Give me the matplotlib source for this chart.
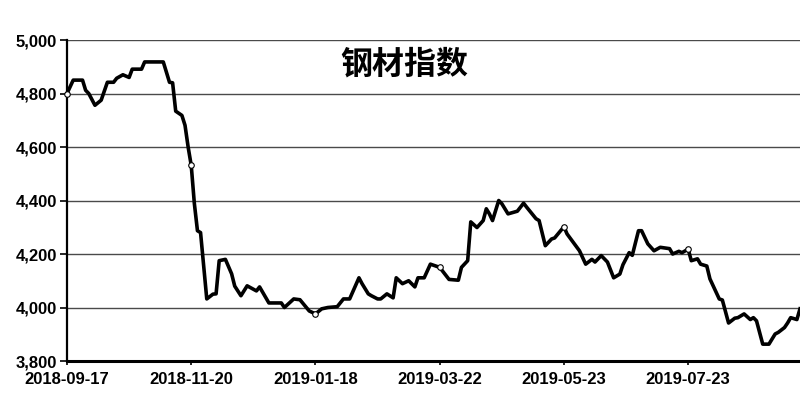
import matplotlib
matplotlib.use("Agg")
import matplotlib.pyplot as plt
from matplotlib.ticker import FuncFormatter

# trading-day index and steel index value
day_idx = [0, 2, 5, 6, 7, 9, 11, 13, 15, 16, 18, 20, 21, 24, 25, 31, 33, 34, 35, 37,
           38, 39, 40, 41, 42, 43, 45, 47, 48, 49, 51, 53, 54, 56, 58, 61, 62, 65, 69, 70,
           73, 75, 78, 80, 82, 84, 87, 89, 91, 94, 95, 97, 98, 100, 101, 103, 105, 106, 108, 110,
           112, 113, 115, 117, 120, 123, 126, 127, 129, 130, 132, 134, 135, 136, 137, 139, 140, 142, 145, 147,
           148, 151, 152, 154, 156, 157, 160, 161, 165, 167, 169, 170, 172, 174, 176, 178, 179, 181, 182, 184,
           185, 187, 189, 191, 194, 195, 197, 198, 200, 201, 203, 204, 206, 207, 210, 211, 213, 215, 216, 218,
           220, 221, 222, 224, 226, 228, 229, 231, 232, 233, 235, 236]
values = [4800, 4850, 4850, 4812, 4800, 4756, 4775, 4842, 4842, 4857, 4870, 4860, 4891, 4891, 4918, 4918, 4842, 4840, 4734, 4718,
          4681, 4600, 4531, 4389, 4287, 4280, 4032, 4050, 4051, 4175, 4180, 4126, 4080, 4044, 4081, 4062, 4077, 4017, 4017, 4000,
          4032, 4029, 3987, 3976, 3995, 4000, 4003, 4032, 4032, 4111, 4089, 4051, 4044, 4032, 4032, 4051, 4036, 4111, 4089, 4100,
          4077, 4111, 4111, 4162, 4150, 4105, 4102, 4150, 4175, 4320, 4299, 4325, 4369, 4350, 4325, 4400, 4388, 4350, 4360, 4390,
          4375, 4332, 4325, 4231, 4256, 4260, 4302, 4275, 4212, 4162, 4180, 4170, 4194, 4170, 4111, 4125, 4160, 4205, 4195, 4287,
          4287, 4238, 4212, 4225, 4220, 4200, 4210, 4205, 4218, 4175, 4182, 4162, 4155, 4107, 4032, 4028, 3942, 3960, 3962, 3976,
          3955, 3962, 3950, 3863, 3863, 3901, 3907, 3925, 3942, 3962, 3955, 3995]

tick_idx = [0, 40, 80, 120, 160, 200]
tick_labels = ["2018-09-17", "2018-11-20", "2019-01-18", "2019-03-22", "2019-05-23", "2019-07-23"]
y_ticks = [3800, 4000, 4200, 4400, 4600, 4800, 5000]
title = "钢材指数"

fig = plt.figure(figsize=(8, 3.96), dpi=100)
ax = fig.add_axes([67 / 800, 1 - 361 / 396, 733 / 800, 321 / 396])

marker_pos = [day_idx.index(t) for t in tick_idx]
ax.plot(day_idx, values, color="black", lw=2.6, solid_joinstyle="round",
        marker="o", markevery=marker_pos, markersize=4, markerfacecolor="white",
        markeredgecolor="black", markeredgewidth=0.8, zorder=3, clip_on=False)

ax.set_xlim(0, 236)
ax.set_ylim(3800, 5000)
ax.set_yticks(y_ticks)
ax.yaxis.set_major_formatter(FuncFormatter(lambda v, p: f"{int(v):,}"))
ax.set_xticks(tick_idx)
ax.set_xticklabels(tick_labels)

ax.grid(axis="y", color="#4a4a4a", lw=1)
ax.set_axisbelow(True)
for s in ["top", "right"]:
    ax.spines[s].set_visible(False)
ax.spines["left"].set_linewidth(1.6)
ax.spines["bottom"].set_linewidth(2.2)
ax.spines["bottom"].set_zorder(4)

ax.tick_params(axis="y", length=5, width=1.2, pad=2, direction="out")
ax.tick_params(axis="x", length=3, width=1.2, pad=5, direction="out")
for lab in ax.get_xticklabels() + ax.get_yticklabels():
    lab.set_fontfamily(["Liberation Sans", "DejaVu Sans"])
    lab.set_fontweight("bold")
    lab.set_fontsize(12)

fig.text(404 / 800, 1 - 65 / 396, title, ha="center", va="center",
         fontsize=23, fontweight="bold", family=["Noto Sans CJK SC", "DejaVu Sans"])

fig.savefig("out.png", dpi=100)
